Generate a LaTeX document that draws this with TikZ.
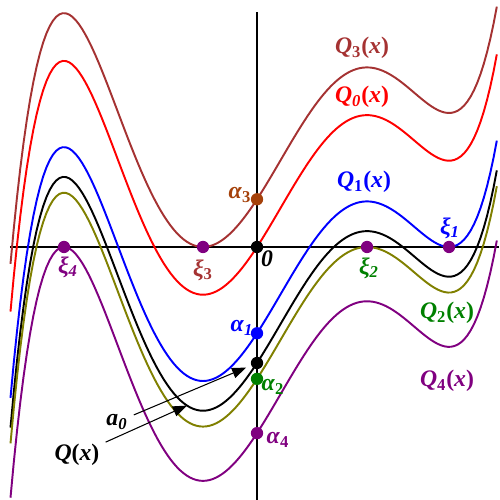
\documentclass[tikz,border=0pt]{standalone}
\usepackage{fontspec}
\setmainfont{Liberation Serif}
\usetikzlibrary{arrows.meta}
\definecolor{qbrown}{RGB}{165,50,50}
\definecolor{abrown}{RGB}{165,65,10}
\definecolor{qolive}{RGB}{128,128,0}
\definecolor{qgreen}{RGB}{0,128,0}
\definecolor{qpurple}{RGB}{128,0,128}
\newcommand{\sym}[2]{\textbf{\textit{#1}\textsubscript{\textit{#2}}}}
\newcommand{\qx}[1]{\sym{Q}{#1}\textbf{(\textit{x})}}

\begin{document}
\begin{tikzpicture}[x=2cm,y=2cm,
  curve/.style={line width=1.1pt,samples=150,domain=-2.465:2.40},
  dot/.style={circle,fill,inner sep=0pt,minimum size=7pt},
  lbl/.style={font=\fontsize{13.5}{15}\selectfont},
  pointer/.style={-{Triangle[length=8pt,width=6pt]},line width=0.6pt},
  declare function={p(\x)=0.7*(((((0.2*\x-0.1375)*\x-1.43507)*\x+1.0346)*\x+2.2011)*\x-2.6591);}]

\useasboundingbox (-2.57,-2.53) rectangle (2.42,2.47);

% Axes
\draw[line width=0.6pt] (-2.47,0) -- (2.42,0);
\draw[line width=0.6pt] (0,-2.53) -- (0,2.35);

% Curves: shifted copies of one polynomial
\draw[curve,qbrown] plot (\x,{p(\x)-p(-0.54)});
\draw[curve,red] plot (\x,{p(\x)-p(0)});
\draw[curve,blue] plot (\x,{p(\x)-p(1.92)});
\draw[curve,black] plot (\x,{p(\x)-p(0)-1.16});
\draw[curve,qolive] plot (\x,{p(\x)-p(1.10)});
\draw[curve,qpurple] plot (\x,{p(\x)-p(-1.93)});

% Curve labels
\node[lbl,qbrown] (q3l) at (1.05,1.99) {\qx{\textup{3}}};
\node[lbl,red] (q0l) at (1.05,1.50) {\qx{0}};
\node[lbl,blue] (q1l) at (1.07,0.65) {\qx{\textup{1}}};
\node[lbl,qgreen] (q2l) at (1.90,-0.66) {\qx{\textup{2}}};
\node[lbl,qpurple] (q4l) at (1.90,-1.34) {\qx{\textup{4}}};

% Points on the axis
\node[dot] (orig) at (0,0) {};
\node[dot,qpurple] (xi1) at (1.92,0) {};
\node[dot,qpurple] (xi2) at (1.10,0) {};
\node[dot,qpurple] (xi3) at (-0.54,0) {};
\node[dot,qpurple] (xi4) at (-1.93,0) {};

\node[lbl] (origl) at (0.10,-0.12) {\textbf{\textit{0}}};
\node[lbl,blue] (xi1l) at (1.93,0.19) {\sym{ξ}{1}};
\node[lbl,qgreen] (xi2l) at (1.12,-0.21) {\sym{ξ}{2}};
\node[lbl,qbrown] (xi3l) at (-0.54,-0.23) {\sym{ξ}{\textup{3}}};
\node[lbl,qpurple] (xi4l) at (-1.89,-0.20) {\sym{ξ}{4}};

% Points on the vertical line
\node[dot,abrown] (al3) at (0,{p(0)-p(-0.54)}) {};
\node[dot,blue] (al1) at (0,{p(0)-p(1.92)}) {};
\node[dot] (a0) at (0,{-1.16}) {};
\node[dot,qgreen] (al2) at (0,{p(0)-p(1.10)}) {};
\node[dot,qpurple] (al4) at (0,{p(0)-p(-1.93)}) {};

\node[lbl,abrown] (al3l) at (-0.17,0.52) {\sym{α}{\textup{3}}};
\node[lbl,blue] (al1l) at (-0.15,-0.81) {\sym{α}{1}};
\node[lbl,qgreen] (al2l) at (0.16,-1.40) {\sym{α}{\textup{2}}};
\node[lbl,qpurple] (al4l) at (0.21,-1.93) {\sym{α}{\textup{4}}};

% Pointers
\node[lbl] (a0l) at (-1.40,-1.75) {\sym{a}{0}};
\node[lbl] (ql) at (-1.80,-2.08) {\textbf{\textit{Q}(\textit{x})}};
\coordinate (qtip) at (-0.70,{p(-0.70)-p(0)-1.16});

\draw[pointer,shorten >=3pt] (a0l) -- (a0);
\draw[pointer] (ql) -- (qtip);
\end{tikzpicture}
\end{document}
